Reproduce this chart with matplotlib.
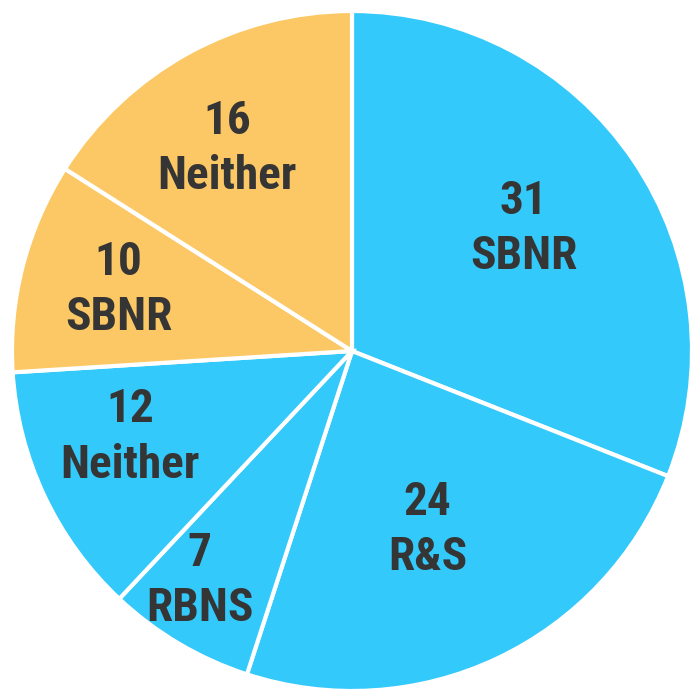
import numpy as np
import matplotlib.pyplot as plt

values = [31, 24, 7, 12, 10, 16]
names = ["SBNR", "R&S", "RBNS", "Neither", "SBNR", "Neither"]
groups = ["blue", "blue", "blue", "blue", "orange", "orange"]

palette = {"blue": "#33C9FA", "orange": "#FCC865"}
# label placement: distance (fraction of radius) and angle nudge (deg) per wedge
label_r = [0.62, 0.57, 0.81, 0.70, 0.71, 0.70]
label_nudge = [1.3, -2.2, -3.0, -4.0, -0.4, 2.9]

W, H = 690, 695
fig = plt.figure(figsize=(W / 100, H / 100), dpi=100)
ax = fig.add_axes([0, 0, 1, 1])

cx, cy, R = 352, H - 351, 340
wedges, _ = ax.pie(
    values,
    colors=[palette[g] for g in groups],
    startangle=90,
    counterclock=False,
    radius=R,
    center=(cx, cy),
    frame=True,
    wedgeprops=dict(edgecolor="white", linewidth=3),
)
ax.set_xlim(0, W)
ax.set_ylim(0, H)
ax.set_aspect("equal")
ax.axis("off")

for w, v, n, d, nud in zip(wedges, values, names, label_r, label_nudge):
    mid = np.deg2rad((w.theta1 + w.theta2) / 2 + nud)
    x = cx + d * R * np.cos(mid)
    y = cy + d * R * np.sin(mid)
    ax.text(x, y, f"{v}\n{n}", ha="center", va="center", fontsize=34,
            fontweight="bold", color="#353535",
            family=["Roboto Condensed", "DejaVu Sans"], linespacing=1.32)

fig.savefig("out.png", dpi=100)
